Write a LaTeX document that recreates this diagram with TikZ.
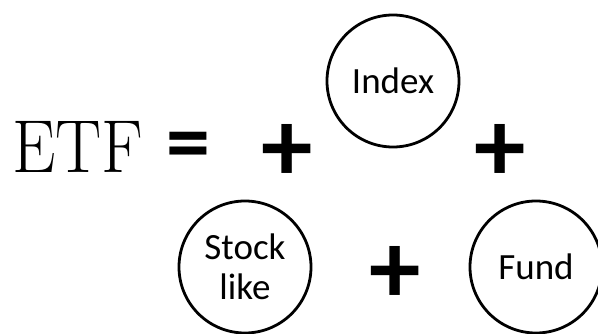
\documentclass[tikz,border=0pt]{standalone}
\usepackage{fontspec}
\newfontfamily\calfont{Carlito}
\begin{document}
\begin{tikzpicture}[x=1pt,y=-1pt,
  ring/.style={circle,draw=black,line width=2.8pt,minimum size=132pt,inner sep=0pt,
    font=\calfont\fontsize{37}{40}\selectfont,align=center,text=black},
  opsign/.style={inner sep=0pt,font=\calfont\bfseries\fontsize{103}{103}\selectfont}]
\useasboundingbox (0,0) rectangle (598,334);
\node[anchor=base west,inner sep=0pt,xscale=0.92,font=\fontsize{75}{75}\selectfont] (etf) at (12,173) {ETF};
\node[inner sep=0pt,font=\calfont\bfseries\fontsize{88}{88}\selectfont] (eq) at (188,152) {=};
\node[opsign] (plusA) at (287,153) {+};
\node[opsign] (plusB) at (500,153) {+};
\node[opsign] (plusC) at (395,275) {+};
\node[ring] (index) at (393,81) {Index};
\node[ring] (stock) at (245,267) {Stock\\like};
\node[ring] (fund) at (536,267) {Fund};
\end{tikzpicture}
\end{document}
